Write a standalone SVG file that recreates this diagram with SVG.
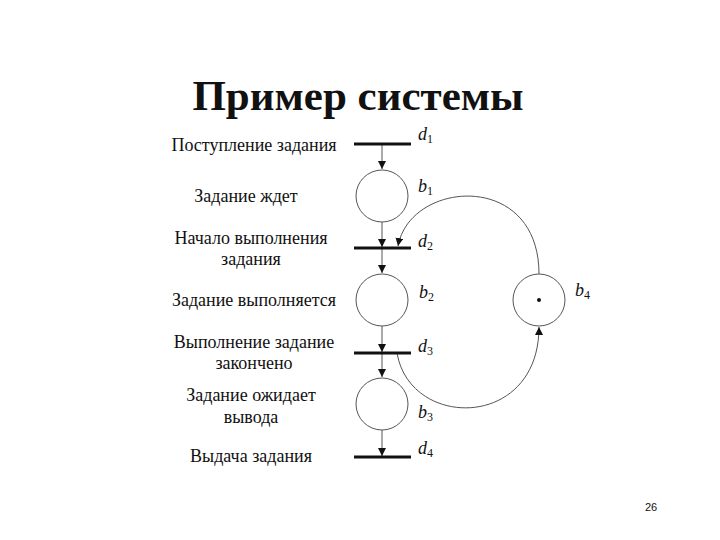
<svg xmlns="http://www.w3.org/2000/svg" width="720" height="540" viewBox="0 0 720 540">
<style>
text{font-family:"Liberation Serif","Times New Roman","DejaVu Serif",serif;fill:#111}
.t{font-size:18px;text-anchor:middle}
.v{font-size:18px;font-style:italic}
.s{font-size:12px;font-style:normal}
.bar{stroke:#111;stroke-width:3}
.pl{fill:#fff;stroke:#555;stroke-width:1}
.c{fill:none;stroke:#555;stroke-width:1}
</style>
<defs><marker id="a" markerWidth="10" markerHeight="10" refX="8" refY="4" orient="auto" markerUnits="userSpaceOnUse"><path d="M0,0 L8,4 L0,8 z" fill="#111"/></marker></defs>
<rect width="720" height="540" fill="#fff"/>
<text x="358" y="110" style="font-size:43px;font-weight:bold;text-anchor:middle">Пример системы</text>
<g id="labels">
<text class="t" x="254" y="151">Поступление задания</text>
<text class="t" x="246" y="202">Задание ждет</text>
<text class="t" x="251" y="244">Начало выполнения</text>
<text class="t" x="251" y="265">задания</text>
<text class="t" x="254" y="306">Задание выполняется</text>
<text class="t" x="254" y="348">Выполнение задание</text>
<text class="t" x="254" y="369">закончено</text>
<text class="t" x="251" y="401">Задание ожидает</text>
<text class="t" x="251" y="423">вывода</text>
<text class="t" x="251" y="462">Выдача задания</text>
</g>
<g id="connectors">
<line class="c" x1="382" y1="145" x2="382" y2="169" marker-end="url(#a)"/>
<line class="c" x1="382" y1="222" x2="382" y2="247" marker-end="url(#a)"/>
<line class="c" x1="382" y1="249" x2="382" y2="273" marker-end="url(#a)"/>
<line class="c" x1="382" y1="326" x2="382" y2="352" marker-end="url(#a)"/>
<line class="c" x1="382" y1="354" x2="382" y2="377" marker-end="url(#a)"/>
<line class="c" x1="382" y1="430" x2="382" y2="456" marker-end="url(#a)"/>
<path class="c" d="M539,274 C539,170 410,180 398,246" marker-end="url(#a)"/>
<path class="c" d="M397,353 C410,430 539,430 539,327" marker-end="url(#a)"/>
</g>
<g id="d1"><line class="bar" x1="354" y1="144" x2="411" y2="144"/><text class="v" x="418" y="140">d<tspan class="s" dy="3">1</tspan></text></g>
<g id="b1"><circle class="pl" cx="382" cy="196" r="26"/><text class="v" x="418" y="192">b<tspan class="s" dy="3">1</tspan></text></g>
<g id="d2"><line class="bar" x1="354" y1="248" x2="411" y2="248"/><text class="v" x="418" y="247">d<tspan class="s" dy="3">2</tspan></text></g>
<g id="b2"><circle class="pl" cx="382" cy="300" r="26"/><text class="v" x="419" y="298">b<tspan class="s" dy="3">2</tspan></text></g>
<g id="d3"><line class="bar" x1="354" y1="353" x2="411" y2="353"/><text class="v" x="418" y="352">d<tspan class="s" dy="3">3</tspan></text></g>
<g id="b3"><circle class="pl" cx="382" cy="404" r="26"/><text class="v" x="418" y="418">b<tspan class="s" dy="3">3</tspan></text></g>
<g id="d4"><line class="bar" x1="354" y1="457" x2="411" y2="457"/><text class="v" x="418" y="454">d<tspan class="s" dy="3">4</tspan></text></g>
<g id="b4"><circle class="pl" cx="539" cy="300" r="26"/><circle cx="539" cy="300" r="2" fill="#111"/><text class="v" x="575" y="296">b<tspan class="s" dy="3">4</tspan></text></g>
<text x="651" y="511" style="font-family:'Liberation Sans',sans-serif;font-size:11px;text-anchor:middle">26</text>
</svg>
